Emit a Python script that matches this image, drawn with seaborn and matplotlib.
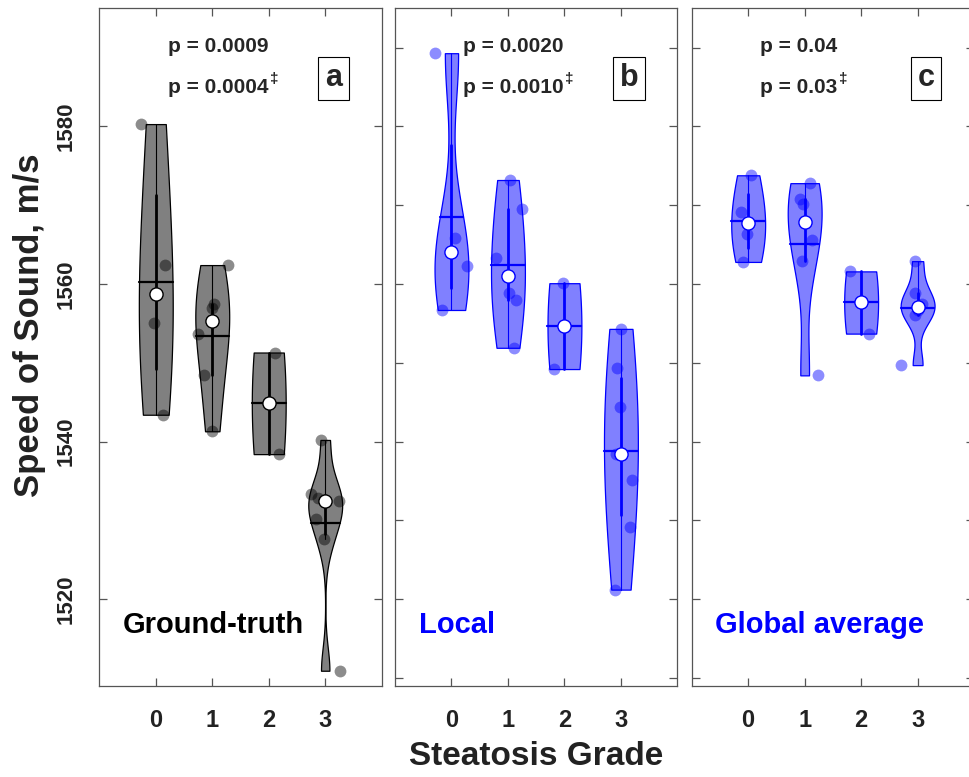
import numpy as np
import pandas as pd
import seaborn as sns
import matplotlib.pyplot as plt
from matplotlib import font_manager

GRADES = [0, 1, 2, 3]

# speed of sound (m/s) per steatosis grade
truth_g0 = [1580.3, 1562.4, 1555.1, 1543.4]
truth_g1 = [1562.4, 1557.5, 1556.9, 1553.6, 1548.4, 1541.3]
truth_g2 = [1551.3, 1538.4]
truth_g3 = [1540.2, 1533.3, 1532.8, 1532.5, 1530.2, 1527.6, 1510.9]

local_g0 = [1589.3, 1565.9, 1562.3, 1556.7]
local_g1 = [1573.2, 1569.5, 1563.3, 1558.8, 1558.0, 1551.9]
local_g2 = [1560.1, 1549.2]
local_g3 = [1554.3, 1549.3, 1544.4, 1538.4, 1535.1, 1529.2, 1521.2]

global_g0 = [1573.8, 1569.1, 1566.3, 1562.8]
global_g1 = [1572.8, 1570.8, 1570.1, 1565.6, 1562.9, 1548.4]
global_g2 = [1561.6, 1553.7]
global_g3 = [1562.9, 1558.9, 1557.5, 1556.7, 1556.0, 1549.7]

panel_names = ['Ground-truth', 'Local', 'Global average']
panel_letters = ['a', 'b', 'c']
p_main = ['p = 0.0009', 'p = 0.0020', 'p = 0.04']
p_adj = ['p = 0.0004', 'p = 0.0010', 'p = 0.03']

sns.set_theme(style='ticks')
names = {f.name for f in font_manager.fontManager.ttflist}
NARROW = 'Liberation Sans Narrow' if 'Liberation Sans Narrow' in names else 'Liberation Sans'
plt.rcParams['font.family'] = ['Liberation Sans', 'DejaVu Sans']
np.random.seed(7)


def quant(x, p):
    # matlab style quantile
    return np.percentile(x, p * 100, method='hazen')


def matlab_bw(x):
    x = np.asarray(x)
    sig = np.median(np.abs(x - np.median(x))) / 0.6745
    bw = sig * (4 / (3 * len(x))) ** 0.2
    return bw / np.std(x, ddof=1)


def draw_panel(ax, groups, face, line, dot):
    df = pd.DataFrame({'grade': np.repeat(GRADES, [len(g) for g in groups]),
                       'sos': np.concatenate(groups)})
    for pos, vals in zip(GRADES, groups):
        vals = np.asarray(vals)
        sns.violinplot(data=df[df['grade'] == pos], x='grade', y='sos', order=GRADES,
                       cut=0, width=0.6, density_norm='width', bw_method=matlab_bw(vals),
                       bw_adjust=1.2, inner=None, color=face, linecolor=line,
                       linewidth=0.9, saturation=1, ax=ax)
        verts = ax.collections[-1].get_paths()[0].vertices
        right = verts[verts[:, 0] > pos]
        right = right[np.argsort(right[:, 1])]

        q1, med, q3 = quant(vals, .25), np.median(vals), quant(vals, .75)
        iqr = q3 - q1
        lo = max(q1 - 1.5 * iqr, vals[vals > q1 - 1.5 * iqr].min())
        hi = min(q3 + 1.5 * iqr, vals[vals < q3 + 1.5 * iqr].max())
        mean = vals.mean()
        hw = np.interp(mean, right[:, 1], right[:, 0]) - pos

        ax.plot([pos, pos], [lo, hi], color=line, lw=0.8, zorder=4)
        ax.plot([pos, pos], [q1, q3], color=line, lw=2, zorder=5)
        ax.plot([pos - hw, pos + hw], [mean, mean], color=line, lw=1.6, zorder=5)
        ax.scatter(pos, med, s=90, facecolor='white', edgecolor=line, lw=1, zorder=6)

    sns.stripplot(data=df, x='grade', y='sos', order=GRADES, color=dot, alpha=0.45,
                  size=8.5, jitter=0.3, linewidth=0, ax=ax, zorder=3)


fig = plt.figure(figsize=(9.69, 7.77), dpi=100)
lefts = [99.3, 395, 691.7]
axes = [fig.add_axes([l / 969, 91.3 / 777, 282.4 / 969, 677.4 / 777]) for l in lefts]

all_groups = [[truth_g0, truth_g1, truth_g2, truth_g3],
              [local_g0, local_g1, local_g2, local_g3],
              [global_g0, global_g1, global_g2, global_g3]]
styles = [('#808080', 'black', 'black'), ('#8080ff', 'blue', 'blue'), ('#8080ff', 'blue', 'blue')]

for i, ax in enumerate(axes):
    face, line, dot = styles[i]
    draw_panel(ax, all_groups[i], face, line, dot)

    ax.set_xlim(-1, 4)
    ax.set_ylim(1509, 1595)
    ax.set_xticks(GRADES)
    ax.set_xticklabels([str(g) for g in GRADES])
    if i == 0:
        ax.set_yticks([1520, 1540, 1560, 1580])
        ax.set_yticklabels(['1520', '1540', '1560', '1580'], rotation=90, va='center')
    else:
        ax.set_yticks(range(1510, 1600, 10))
        ax.set_yticklabels([])
    ax.tick_params(direction='in', length=6, width=0.9, color='#555555',
                   top=True, right=True, pad=17)
    ax.tick_params(axis='y', pad=16)
    for lab in ax.get_xticklabels():
        lab.set_fontfamily(NARROW)
        lab.set_fontweight('bold')
        lab.set_fontsize(17)
        lab.set_color('#222222')
    for lab in ax.get_yticklabels():
        lab.set_fontfamily(NARROW)
        lab.set_fontweight('bold')
        lab.set_fontsize(16)
        lab.set_color('#222222')
    for s in ax.spines.values():
        s.set_color('#555555')
        s.set_linewidth(0.9)

    ax.set_xlabel('')
    ax.set_ylabel('')
    ax.text(0.21, 1590.1, p_main[i], fontsize=15, fontweight='bold', ha='left', va='center')
    t = ax.text(0.21, 1585.0, p_adj[i], fontsize=15, fontweight='bold', ha='left', va='center')
    ax.annotate('\u2021', xy=(1, 0.95), xycoords=t, xytext=(1, 0), textcoords='offset points',
                fontsize=11, fontweight='bold', ha='left', va='center')
    ax.text(3.15, 1586.1, panel_letters[i], fontsize=22, fontweight='bold', ha='center',
            va='center', bbox=dict(boxstyle='square,pad=0.22', fc='white', ec='black', lw=0.8))
    ax.text(-0.58, 1516.7, panel_names[i], fontsize=21, fontweight='bold', color=line,
            ha='left', va='center')

axes[0].set_ylabel('Speed of Sound, m/s', fontsize=25, fontweight='bold',
                   family=NARROW, color='#222222')
axes[0].yaxis.set_label_coords(-0.19, 0.532)
axes[1].set_xlabel('Steatosis Grade', fontsize=24, fontweight='bold',
                   family=NARROW, color='#222222', labelpad=6)

fig.savefig('out.png', dpi=100)
